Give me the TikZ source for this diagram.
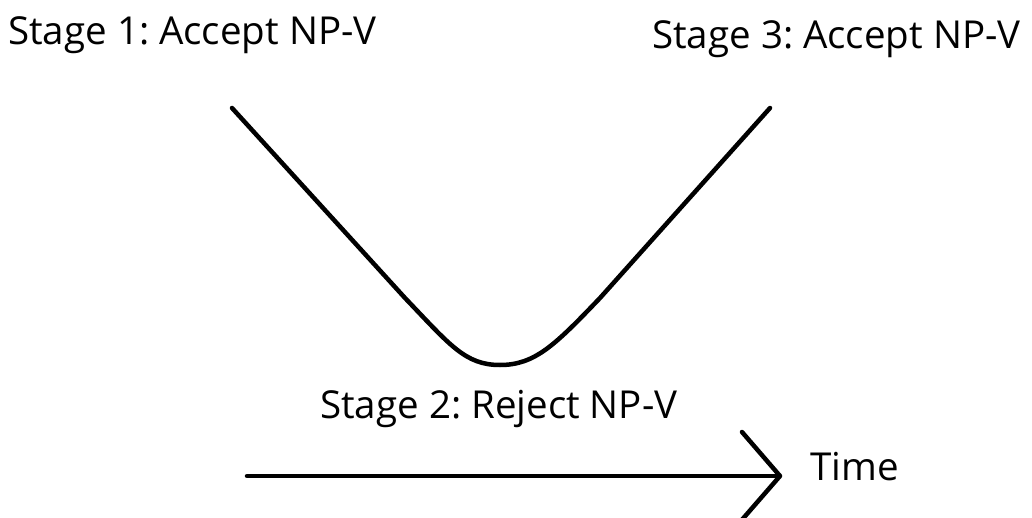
\documentclass[tikz,border=0pt]{standalone}
\usepackage{fontspec}
\setmainfont{Open Sans}
\frenchspacing
\begin{document}
\begin{tikzpicture}[x=1pt,y=-1pt,
  lbl/.style={inner sep=0pt, anchor=west, font=\fontsize{38.5}{42}\selectfont},
  ln/.style={line width=4.5pt, line cap=round, line join=round}]
\useasboundingbox (0,0) rectangle (1032,518);
\node[lbl] (s1) at (8,35) {Stage 1: Accept NP-V};
\node[lbl] (s3) at (652,39) {Stage 3: Accept NP-V};
\node[lbl] (s2) at (320,409) {Stage 2: Reject NP-V};
\node[lbl] (time) at (810,467) {Time};
\coordinate (cl) at (232,108);
\coordinate (cr) at (770,108);
\coordinate (cb) at (500,365);
\draw[ln] (cl) -- (405,298) .. controls (450,345) and (465,365) .. (cb)
  .. controls (535,365) and (555,345) .. (600,298) -- (cr);
\coordinate (a0) at (247,476);
\coordinate (a1) at (780,476);
\draw[ln] (a0) -- (a1);
\draw[ln] (742,432) -- (a1) -- (740,522);
\end{tikzpicture}
\end{document}
